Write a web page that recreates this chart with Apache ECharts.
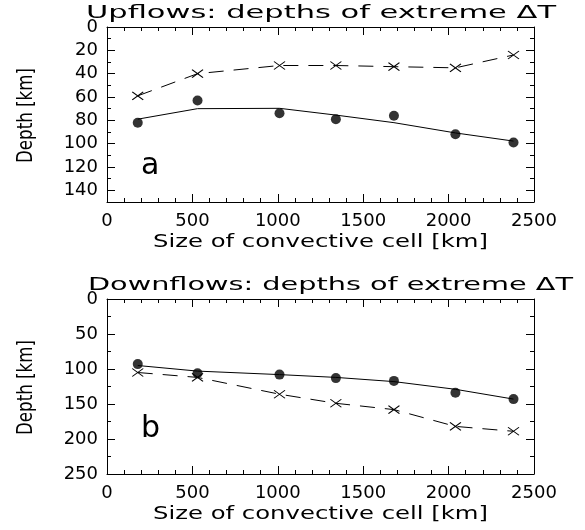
<!DOCTYPE html>
<html><head><meta charset="utf-8">
<script src="https://cdn.jsdelivr.net/npm/echarts@6/dist/echarts.min.js"></script>
<style>
html,body{margin:0;padding:0;background:#fff}
#wrap{position:relative;width:585px;height:530px}
#p0{position:absolute;left:0;top:0;width:585px;height:265px}
#p1{position:absolute;left:0;top:265px;width:585px;height:265px}
#t{position:absolute;left:0;top:0;width:585px;height:530px;pointer-events:none}
</style>
</head><body><div id="wrap"><div id="p0"></div><div id="p1"></div><div id="t"></div></div><script>
// ---- data ----
const cellSize = [180, 530, 1010, 1340, 1680, 2040, 2380];
const upDots = [82, 63, 74, 79, 76, 92, 99];
const upFit = [79, 70, 69.7, 75.5, 82, 90.8, 97.8];
const upCross = [59, 40, 33, 33, 34, 35, 24];
const downDots = [93, 106, 108, 113, 117, 134, 143];
const downFit = [95, 103, 108, 112, 118, 129, 143];
const downCross = [105, 112, 136, 149, 158, 182, 189];
const xTicks = [0, 500, 1000, 1500, 2000, 2500];
const upYTicks = [0, 20, 40, 60, 80, 100, 120, 140];
const downYTicks = [0, 50, 100, 150, 200, 250];
const titles = ['Upflows: depths of extreme \u0394T', 'Downflows: depths of extreme \u0394T'];
const xName = 'Size of convective cell [km]';
const yName = 'Depth [km]';
const panelLabels = ['a', 'b'];

// ---- layout ----
const L = 107, R = 534, H = 175;
const divTop = [0, 265];
const tops = [27, 299];
const yMaxes = [150, 250];
const FF = '"DejaVu Sans ExtraLight", "DejaVu Sans", sans-serif';
function bl() { return {color: '#000', width: 1}; }
function lab(extra) { return Object.assign({show: true, color: '#000', fontFamily: FF, fontSize: 18}, extra); }

const cv = document.createElement('canvas').getContext('2d');
function tw(t, size, fam) { cv.font = size + 'px ' + fam; return cv.measureText(t).width; }

const crossPath = 'path://M0,0L10,10M10,0L0,10';
// depth axis runs downward: depths are plotted as negative values and labelled by magnitude
function mk(xs, ys) { return xs.map((x, i) => [x, -ys[i]]); }
const sets = [[upDots, upFit, upCross], [downDots, downFit, downCross]];

function panelOption(p) {
  const xAxes = [], yAxes = [];
  for (const pos of ['bottom', 'top']) {
    xAxes.push({type: 'value', position: pos, min: xTicks[0], max: xTicks[xTicks.length - 1], interval: xTicks[1] - xTicks[0],
      axisLine: {show: true, onZero: false, lineStyle: bl()},
      axisTick: {show: true, inside: true, length: 8, lineStyle: bl()},
      minorTick: {show: true, splitNumber: 5, length: 4, lineStyle: bl()},
      axisLabel: pos === 'bottom' ? lab({margin: 10, formatter: v => String(v)}) : {show: false},
      splitLine: {show: false}, minorSplitLine: {show: false}});
  }
  const ticks = p === 0 ? upYTicks : downYTicks;
  const major = ticks[1] - ticks[0];
  if (p === 0) {
    for (const pos of ['left', 'right']) {
      yAxes.push({type: 'value', position: pos, min: -yMaxes[p], max: 0, interval: major / 2,
        axisLine: {show: true, onZero: false, lineStyle: bl()},
        axisTick: {show: true, inside: true, length: 4, lineStyle: bl()},
        axisLabel: pos === 'left' ? lab({margin: 9, formatter: v => (v % major === 0 ? String(Math.abs(v)) : '')}) : {show: false},
        splitLine: {show: false}});
    }
    for (const pos of ['left', 'right']) {
      yAxes.push({type: 'value', position: pos, min: -yMaxes[p], max: 0, interval: major / 2,
        axisLine: {show: false, onZero: false},
        axisTick: {show: true, inside: true, length: 8, lineStyle: bl(), customValues: ticks.map(v => -v)},
        axisLabel: {show: false}, splitLine: {show: false}});
    }
  } else {
    for (const pos of ['left', 'right']) {
      yAxes.push({type: 'value', position: pos, min: -yMaxes[p], max: 0, interval: major,
        axisLine: {show: true, onZero: false, lineStyle: bl()},
        axisTick: {show: true, inside: true, length: 8, lineStyle: bl()},
        minorTick: {show: true, splitNumber: 2, length: 4, lineStyle: bl()},
        axisLabel: pos === 'left' ? lab({margin: 9, formatter: v => String(Math.abs(v))}) : {show: false},
        splitLine: {show: false}, minorSplitLine: {show: false}});
    }
  }
  const [d, f, c] = sets[p];
  const series = [
    {type: 'line', xAxisIndex: 0, yAxisIndex: 0, data: mk(cellSize, f), showSymbol: false, symbol: 'none',
      lineStyle: {color: '#000', width: 1}},
    {type: 'line', xAxisIndex: 0, yAxisIndex: 0, data: mk(cellSize, c), symbol: crossPath, symbolSize: [11, 8],
      lineStyle: {color: '#000', width: 1, type: [15, 10]}, itemStyle: {color: '#000', borderColor: '#000', borderWidth: 1}},
    {type: 'scatter', xAxisIndex: 0, yAxisIndex: 0, data: mk(cellSize, d), symbol: 'circle', symbolSize: 10,
      itemStyle: {color: '#000'}}
  ];
  return {
    animation: false,
    grid: {left: L, right: 585 - R, top: tops[p] - divTop[p], height: H},
    xAxis: xAxes, yAxis: yAxes, series: series
  };
}

for (let p = 0; p < 2; p++) {
  echarts.init(document.getElementById('p' + p)).setOption(panelOption(p));
}

// ---- text overlay (stretched to match the wide vector font of the original) ----
function stretched(text, cx, cy, width, size, rot) {
  const nat = tw(text, size, FF);
  return {type: 'text', x: cx, y: cy, rotation: rot || 0, scaleX: width / nat, silent: true,
    style: {text: text, x: 0, y: 0, fill: '#000', fontSize: size, fontFamily: FF, align: 'center', verticalAlign: 'middle'}};
}
const graphics = [];
const titleSpan = [[86, 556], [88, 573]];
const titleCy = [13, 285];
for (let p = 0; p < 2; p++) {
  const [a, b] = titleSpan[p];
  graphics.push(stretched(titles[p], (a + b) / 2, titleCy[p], b - a, 18));
  graphics.push(stretched(xName, 320.5, tops[p] + H + 41, 335, 17));
  graphics.push(stretched(yName, 26.5, tops[p] + H / 2 + 1, 95, 21, Math.PI / 2));
}
graphics.push({type: 'text', x: 141, y: 181, silent: true, style: {text: panelLabels[0], fill: '#000', fontSize: 30, fontFamily: FF, align: 'left', verticalAlign: 'bottom'}});
graphics.push({type: 'text', x: 141, y: 444, silent: true, style: {text: panelLabels[1], fill: '#000', fontSize: 30, fontFamily: FF, align: 'left', verticalAlign: 'bottom'}});

echarts.init(document.getElementById('t')).setOption({animation: false, backgroundColor: 'transparent', graphic: graphics});
</script></body></html>
